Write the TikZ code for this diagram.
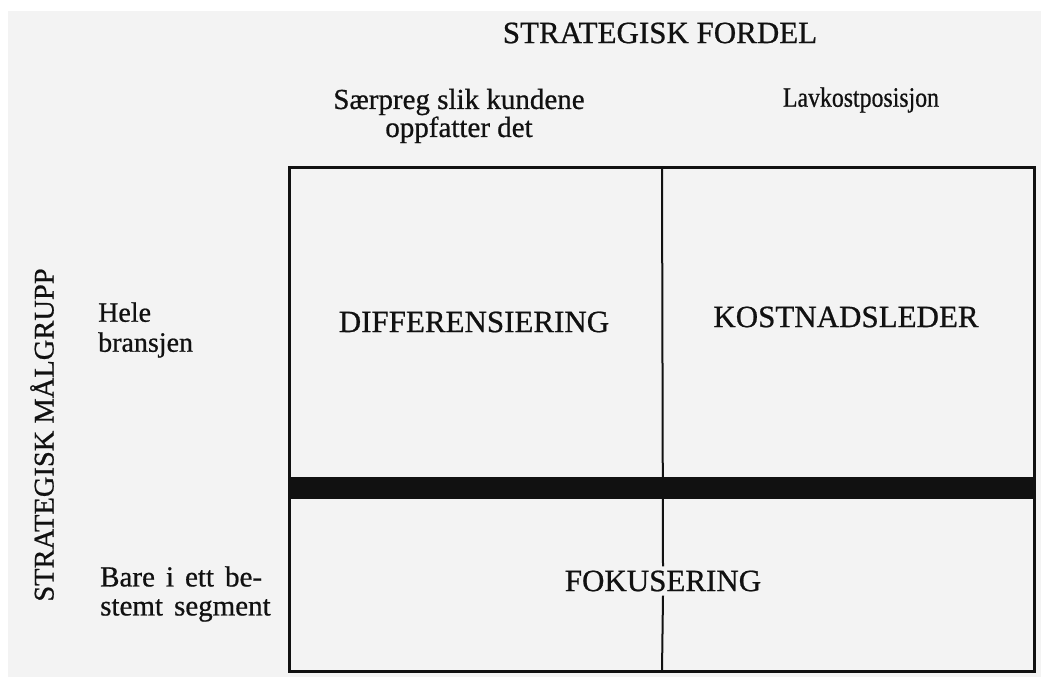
\documentclass[tikz,border=0pt]{standalone}
\usepackage{fontspec}
\setmainfont[FakeBold=0.7]{Liberation Serif}
\definecolor{paper}{HTML}{F3F3F3}
\definecolor{ink}{HTML}{111111}
\newcommand\loosewords{\spaceskip=0.38em\relax}
\begin{document}
\begin{tikzpicture}[x=1pt,y=-1pt,
  txt/.style={font=\fontsize{28}{30}\selectfont, inner sep=0pt, text=ink},
  cell/.style={font=\fontsize{31}{33}\selectfont, inner sep=0pt, text=ink},
  head/.style={font=\fontsize{31}{33}\selectfont, inner sep=0pt, text=ink},
  frame/.style={draw=ink, line width=3pt},
  divider/.style={draw=ink, line width=2pt},
  bar/.style={draw=ink, line width=22pt}]
\useasboundingbox (0,0) rectangle (1041,677);
\fill[paper] (8,11) rectangle (1041,677);

% matrix outline
\coordinate (tl) at (289,167);
\coordinate (br) at (1034,671);
\coordinate (mt) at (662,167);
\coordinate (mb) at (662,671);
\coordinate (bl) at (289,488);
\coordinate (brr) at (1034,488);

% axis headings
\node[head] (fordel) at (660,33) {STRATEGISK FORDEL};
\node[head, font=\fontsize{28.5}{30}\selectfont, rotate=90] (maal) at (42,435) {STRATEGISK MÅLGRUPP};

% column headings
\node[txt, font=\fontsize{29}{28}\selectfont, align=center] (saerpreg) at (459,116) {Særpreg slik kundene\\oppfatter det};
\node[txt, xscale=0.85] (lavkost) at (861,100) {Lavkostposisjon};

% row headings
\node[txt, align=left, anchor=west] (hele) at (98,330) {Hele\\bransjen};
\node[txt, font=\fontsize{29}{29}\selectfont\loosewords,
      align=left, anchor=west] (bare) at (100,594) {Bare i ett be-\\stemt segment};

% cell labels
\node[cell] (diff) at (474,322) {DIFFERENSIERING};
\node[cell] (kost) at (846,317) {KOSTNADSLEDER};
\node[cell, fill=paper, inner ysep=4pt, inner xsep=4pt] (fok) at (663,581) {FOKUSERING};

% grid
\draw[frame] (tl) rectangle (br);
\draw[divider] (mt) -- (fok.north);
\draw[divider] (fok.south) -- (mb);
\draw[bar] (bl) -- (brr);
\end{tikzpicture}
\end{document}
